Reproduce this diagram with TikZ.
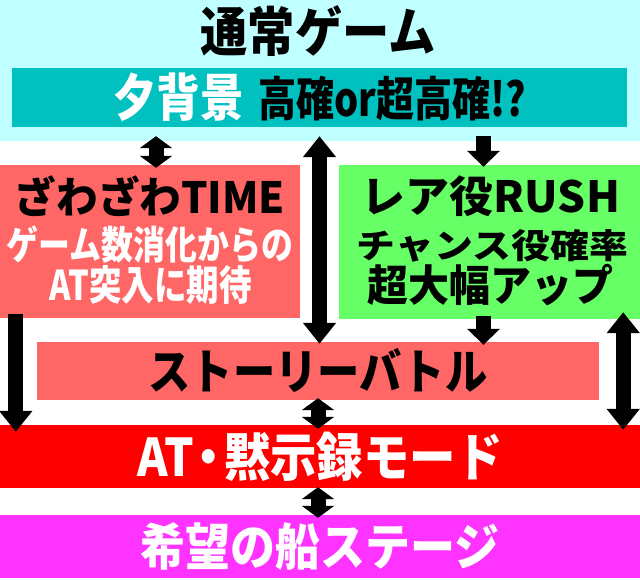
\documentclass[tikz,border=0pt]{standalone}
\usepackage{fontspec}
\usepackage{graphicx}
\usetikzlibrary{arrows.meta,calc}
\newfontfamily\jp{Noto Sans CJK JP}
\definecolor{tsujo}{HTML}{C0FFFF}
\definecolor{yuu}{HTML}{00C0C0}
\definecolor{zawa}{HTML}{FF6666}
\definecolor{rare}{HTML}{66FF66}
\definecolor{atred}{HTML}{FF0000}
\definecolor{kibou}{HTML}{FF33FF}
% size, width, text
\newcommand{\txt}[3]{\fontsize{#1}{#1}\selectfont\resizebox{#2pt}{\height}{#3}}

\begin{document}
\begin{tikzpicture}[x=1pt,y=-1pt,font=\jp\bfseries]
\tikzstyle{every node}+=[inner sep=0pt]
\tikzstyle{box}=[rectangle,draw=none]
\tikzstyle{arrow}=[line width=15pt,black]
\tikzstyle{short}=[arrow,>={Triangle[length=16pt,width=32pt]}]
\tikzstyle{twin}=[arrow,>={Triangle[length=12pt,width=32pt]}]
\tikzstyle{long}=[arrow,>={Triangle[length=21pt,width=32pt]}]
\useasboundingbox (0,0) rectangle (640,580);
\node [box,fill=tsujo,minimum width=640,minimum height=141] (tsujo) at (320,70.5) {};
\node (title) at (318,31) {\txt{53}{235}{通常ゲーム}};
\node [box,fill=yuu,minimum width=615,minimum height=59] (yuu) at (319.5,97.5)
  {\color{white}\txt{51}{131}{夕背景}\hspace{14pt}\color{black}\txt{47}{268}{高確or超高確!?}};
\node [box,fill=zawa,minimum width=300,minimum height=153] (zawa) at (150,241.5) {};
\node (zawa1) at (150,196) {\txt{43}{270}{ざわざわTIME}};
\node [text=white] (zawa2) at (150,245) {\txt{39}{286}{ゲーム数消化からの}};
\node [text=white] (zawa3) at (151,285) {\txt{41}{202}{AT突入に期待}};
\node [box,fill=rare,minimum width=301,minimum height=154] (rare) at (489.5,242) {};
\node (rare1) at (491,196) {\txt{43}{258}{レア役RUSH}};
\node (rare2) at (492.5,246) {\txt{34}{271}{チャンス役確率}};
\node (rare3) at (490,285) {\txt{43}{246}{超大幅アップ}};
\node [box,fill=zawa,minimum width=562,minimum height=58] (story) at (318,371)
  {\txt{48}{339}{ストーリーバトル}};
\node [box,fill=atred,minimum width=640,minimum height=63,text=white] (at) at (320,456.5)
  {\txt{52}{365}{AT\kern-9pt・\kern-9pt黙示録モード}};
\node [box,fill=kibou,minimum width=640,minimum height=63,text=white] (kibou) at (320,546.5)
  {\txt{50}{359}{希望の船ステージ}};
\draw [twin,<->] ($(zawa.north |- yuu.south)+(6,9)$) -- ($(zawa.north)+(6,3)$);
\draw [long,<->] ($(yuu.south)+(0,9)$) -- ($(story.north -| yuu.south)+(0,2)$);
\draw [short,->] ($(rare.north |- yuu.south)+(-6,9)$) -- ($(rare.north)+(-6,2)$);
\draw [long,->] ($(zawa.south west)+(16,-4)$) -- ($(at.north west)+(16,7)$);
\draw [short,->] ($(rare.south)+(-6,-3)$) -- ($(story.north -| rare.south)+(-6,3)$);
\draw [long,<->] ($(rare.south east)+(-17,-7)$) -- ($(at.north east)+(-17,5)$);
\draw [twin,<->] ($(story.south)+(0,-2)$) -- ($(at.north -| story.south)+(0,4)$);
\draw [twin,<->] ($(at.south -| story.south)+(0,-1)$) -- ($(kibou.north -| story.south)+(0,3)$);
\end{tikzpicture}
\end{document}
